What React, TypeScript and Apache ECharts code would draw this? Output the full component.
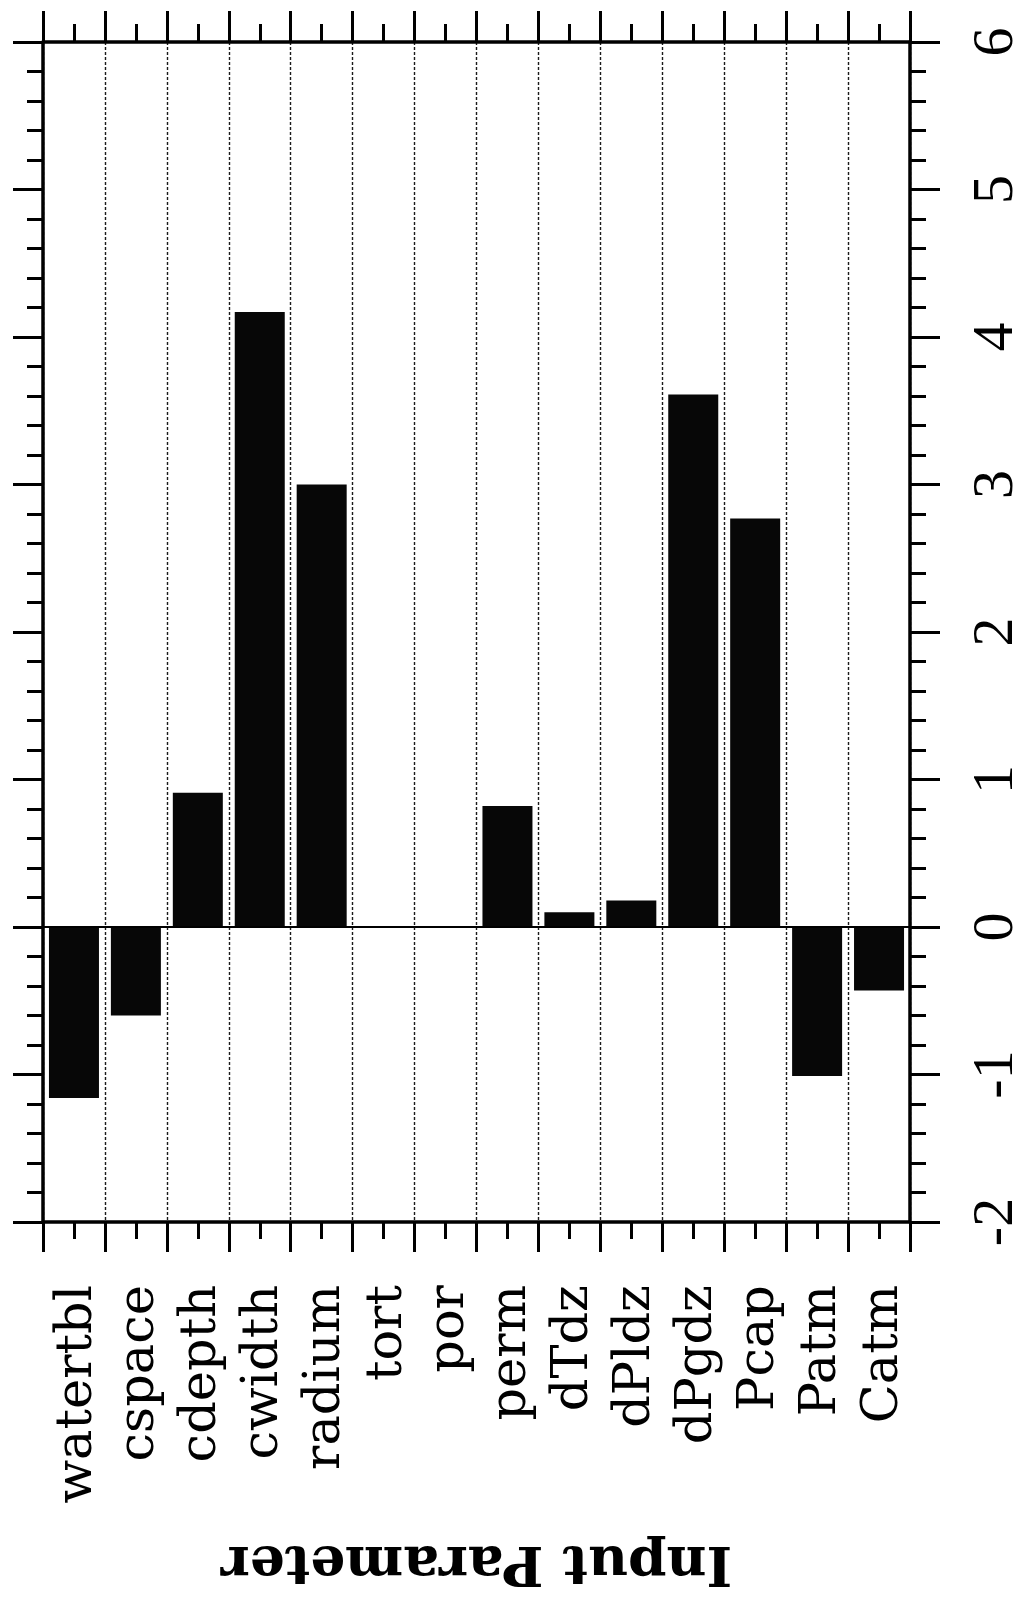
import React, { useEffect, useRef } from "react";
import * as echarts from "echarts";

// Categories (left to right in the picture) and their values
const categories = [
  "watertbl", "cspace", "cdepth", "cwidth", "radium", "tort", "por",
  "perm", "dTdz", "dPldz", "dPgdz", "Pcap", "Patm", "Catm",
];
const sensitivity = [
  -1.16, -0.6, 0.91, 4.17, 3.0, 0, 0, 0.82, 0.1, 0.18, 3.61, 2.77, -1.01, -0.43,
];
const valueMin = -2;
const valueMax = 6;
const valueStep = 1;
const axisTitle = "Input Parameter";

export default function App() {
  const ref = useRef<HTMLDivElement>(null);

  useEffect(() => {
    if (!ref.current) return;
    const chart = echarts.init(ref.current, null, { renderer: "svg" });
    const black = "#000000";
    const frameLine = { show: true, onZero: false, lineStyle: { color: black, width: 3.5 } };
    const noLine = { show: false, onZero: false };
    const tickStyle = { color: black, width: 3 };

    const catAxis = (position: string, withLine: boolean, centered: boolean, len: number) => ({
      type: "category",
      data: categories,
      boundaryGap: true,
      position,
      axisLine: withLine ? frameLine : noLine,
      axisTick: {
        show: true,
        interval: 0,
        alignWithLabel: centered,
        length: len,
        lineStyle: tickStyle,
      },
      axisLabel: { show: false, interval: 0 },
      splitLine: { show: false },
    });

    const valAxis = (position: string, withLabels: boolean) => ({
      type: "value",
      position,
      min: valueMin,
      max: valueMax,
      interval: valueStep,
      axisLine: frameLine,
      axisTick: { show: true, length: 30, lineStyle: tickStyle },
      minorTick: { show: true, splitNumber: 5, length: 16, lineStyle: tickStyle },
      splitLine: { show: false },
      minorSplitLine: { show: false },
      axisLabel: withLabels
        ? {
            show: true,
            rotate: 90,
            margin: 53,
            showMinLabel: true,
            showMaxLabel: true,
            fontFamily: "Liberation Serif",
            fontSize: 58,
            lineHeight: 58,
            color: black,
          }
        : { show: false },
    });

    chart.setOption({
      animation: false,
      backgroundColor: "#ffffff",
      grid: { left: 43, right: 116, top: 42, bottom: 383, containLabel: false },
      xAxis: [
        {
          ...catAxis("bottom", true, false, 30),
          axisLabel: {
            show: true,
            interval: 0,
            rotate: 90,
            margin: 63,
            fontFamily: "DejaVu Serif",
            fontSize: 51,
            lineHeight: 51,
            padding: [12, 0, 0, 0],
            color: black,
          },
          splitLine: {
            show: true,
            interval: 0,
            lineStyle: { color: "#1a1a1a", width: 1.4, type: [3, 2] },
          },
          name: axisTitle,
          nameLocation: "middle",
          nameRotate: 180,
          nameGap: 317,
          nameMoveOverlap: false,
          nameTextStyle: {
            fontFamily: "DejaVu Serif",
            fontWeight: "bold",
            fontSize: 55,
            lineHeight: 55,
            color: black,
          },
        },
        catAxis("bottom", false, true, 17),
        catAxis("top", true, false, 31),
        catAxis("top", false, true, 18),
      ],
      yAxis: [valAxis("right", true), valAxis("left", false)],
      series: [
        {
          type: "bar",
          xAxisIndex: 0,
          yAxisIndex: 0,
          data: sensitivity,
          barWidth: 50,
          itemStyle: { color: "#070707" },
          markLine: {
            silent: true,
            symbol: ["none", "none"],
            label: { show: false },
            lineStyle: { color: black, width: 2, type: "solid" },
            data: [{ yAxis: 0 }],
          },
        },
      ],
    });

    return () => chart.dispose();
  }, []);

  return (
    <div
      ref={ref}
      style={{ position: "absolute", left: 0, top: 0, width: 1026, height: 1605 }}
    />
  );
}
